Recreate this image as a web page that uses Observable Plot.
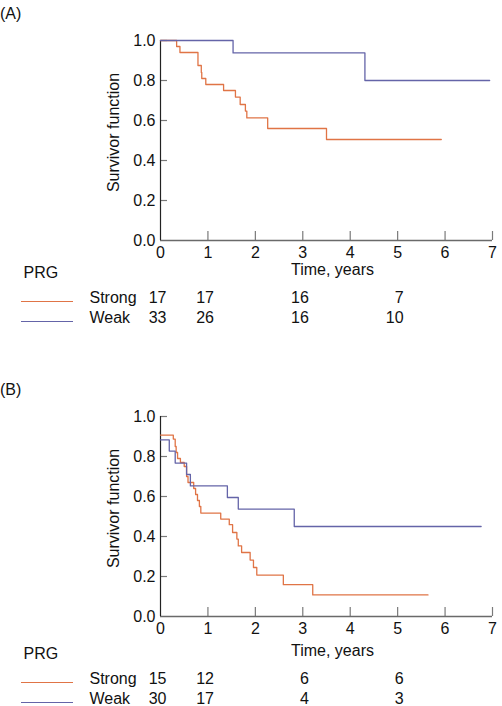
<!DOCTYPE html>
<html><head><meta charset="utf-8">
<script src="https://cdn.jsdelivr.net/npm/d3@7"></script>
<script src="https://cdn.jsdelivr.net/npm/@observablehq/plot@0.6"></script>
<style>
body{margin:0;background:#fff;font-family:"Liberation Sans",Arial,sans-serif;}
#root{position:relative;width:502px;height:706px;overflow:hidden;background:#fff;}
.abs{position:absolute;}
.sw{position:absolute;height:1.4px;}
.tag{position:absolute;font-size:16px;line-height:1;color:#111;}
</style></head><body><div id="root"></div>
<script>
// ---- data ----
const panelTags = ["(A)", "(B)"];
const groups = ["Strong", "Weak"];
const xTicks = [0, 1, 2, 3, 4, 5, 6, 7];
const yTicks = [0, 0.2, 0.4, 0.6, 0.8, 1.0];
const riskTimes = [0, 1, 3, 5];

// Panel A
const timeA_strong = [0, 0.34, 0.41, 0.79, 0.86, 0.87, 0.955, 1.33, 1.58, 1.68, 1.79, 1.82, 2.26, 3.50, 5.92];
const survA_strong = [1.0, 0.97, 0.94, 0.875, 0.84, 0.81, 0.78, 0.75, 0.717, 0.68, 0.647, 0.613, 0.56, 0.505, 0.505];
const timeA_weak = [0, 1.53, 4.31, 6.94];
const survA_weak = [1.0, 0.938, 0.80, 0.80];
const riskA_strong = [17, 17, 16, 7];
const riskA_weak = [33, 26, 16, 10];

// Panel B
const timeB_strong = [0, 0.27, 0.31, 0.33, 0.36, 0.42, 0.50, 0.55, 0.58, 0.70, 0.74, 0.78, 0.82, 0.85, 1.27, 1.45, 1.52, 1.61, 1.64, 1.71, 1.89, 1.96, 2.03, 2.59, 3.21, 5.64];
const survB_strong = [0.907, 0.887, 0.85, 0.82, 0.79, 0.77, 0.75, 0.70, 0.67, 0.64, 0.61, 0.58, 0.55, 0.517, 0.487, 0.459, 0.42, 0.387, 0.353, 0.32, 0.282, 0.245, 0.207, 0.159, 0.108, 0.108];
const timeB_weak = [0, 0.185, 0.31, 0.55, 0.63, 1.41, 1.64, 2.82, 6.76];
const survB_weak = [0.883, 0.827, 0.767, 0.71, 0.653, 0.595, 0.537, 0.45, 0.45];
const riskB_strong = [15, 12, 6, 6];
const riskB_weak = [30, 17, 4, 3];

const colors = {Strong: "#e07446", Weak: "#6464a8"};
const FONT = "'Liberation Sans', Arial, Helvetica, sans-serif";
const FS = 16;

function toRows(ts, ss) { return ts.map((t, i) => ({t, s: ss[i]})); }

const root = document.getElementById("root");

function panel(top, tag, strong, weak, riskS, riskW, shift) {
  const W = 502, H = 330, mt = 40, mb = 90, ml = 160, mr = 10;
  const frameH = H - mt - mb, frameW = W - ml - mr;
  const rowsS = riskTimes.map((t, i) => ({t, n: riskS[i]}));
  const rowsW = riskTimes.map((t, i) => ({t, n: riskW[i]}));
  const row1 = 61 + shift, row2 = 81 + shift;
  const txt = {fontSize: FS, fill: "#111"};
  const plot = Plot.plot({
    width: W, height: H,
    marginTop: mt, marginBottom: mb, marginLeft: ml, marginRight: mr,
    style: {fontFamily: FONT, fontSize: FS + "px", color: "#111", background: "transparent", overflow: "visible"},
    x: {domain: [0, 7]},
    y: {domain: [0, 1]},
    marks: [
      Plot.axisY(yTicks, {tickSize: 0, tickPadding: 5, tickFormat: d => d.toFixed(1), label: null, fontSize: FS}),
      Plot.axisX(xTicks, {tickSize: 0, tickPadding: 6, tickFormat: d => String(d), label: null, fontSize: FS}),
      Plot.tickY(yTicks.filter(d => d > 0), {y: d => d, stroke: "#7a7a7a", strokeWidth: 1.2, insetRight: frameW - 7}),
      Plot.tickX(xTicks.filter(d => d > 0), {x: d => d, stroke: "#7a7a7a", strokeWidth: 1.2, insetTop: frameH - 9}),
      Plot.ruleY([0], {stroke: "#6a6a6a", strokeWidth: 1.3}),
      Plot.ruleX([0], {stroke: "#222", strokeWidth: 1.2}),
      Plot.line(strong, {x: "t", y: "s", curve: "step-after", stroke: colors.Strong, strokeWidth: 1.3}),
      Plot.line(weak, {x: "t", y: "s", curve: "step-after", stroke: colors.Weak, strokeWidth: 1.3}),
      Plot.text(["Survivor function"], {frameAnchor: "left", textAnchor: "middle", rotate: -90, dx: -47, dy: -8, ...txt}),
      Plot.text(["Time, years"], {frameAnchor: "bottom", dx: 6, dy: 33 + shift, ...txt}),
      Plot.text(["PRG"], {frameAnchor: "bottom-left", dx: -137, dy: 36 + shift, textAnchor: "start", ...txt}),
      Plot.text([groups[0]], {frameAnchor: "bottom-left", dx: -71, dy: row1, textAnchor: "start", ...txt}),
      Plot.text([groups[1]], {frameAnchor: "bottom-left", dx: -71, dy: row2, textAnchor: "start", ...txt}),
      Plot.text(rowsS, {x: "t", text: "n", frameAnchor: "bottom", dx: 6, dy: row1, textAnchor: "end", ...txt}),
      Plot.text(rowsW, {x: "t", text: "n", frameAnchor: "bottom", dx: 6, dy: row2, textAnchor: "end", ...txt})
    ]
  });
  const wrap = document.createElement("div");
  wrap.className = "abs";
  wrap.style.left = "0px";
  wrap.style.top = top + "px";
  wrap.appendChild(plot);
  root.appendChild(wrap);
  const t = document.createElement("div");
  t.className = "tag";
  t.textContent = tag;
  t.style.left = "0px";
  t.style.top = (top + 6) + "px";
  root.appendChild(t);
  [row1, row2].forEach((r, i) => {
    const s = document.createElement("div");
    s.className = "sw";
    s.style.left = "21px";
    s.style.width = "52px";
    s.style.top = (top + 240 + r - 1) + "px";
    s.style.background = colors[groups[i]];
    root.appendChild(s);
  });
}

panel(0, panelTags[0], toRows(timeA_strong, survA_strong), toRows(timeA_weak, survA_weak), riskA_strong, riskA_weak, 1);
panel(376, panelTags[1], toRows(timeB_strong, survB_strong), toRows(timeB_weak, survB_weak), riskB_strong, riskB_weak, 6);
</script></body></html>
